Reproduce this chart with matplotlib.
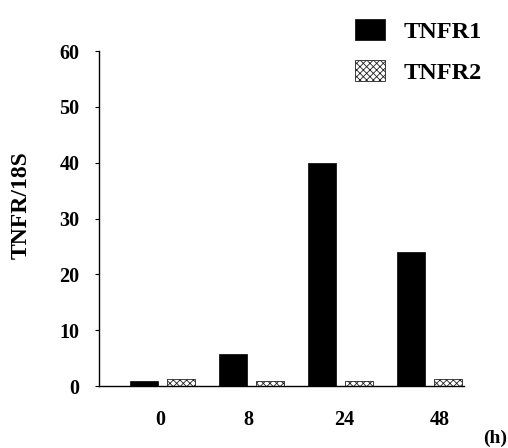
import numpy as np
import matplotlib
matplotlib.use("Agg")
import matplotlib.pyplot as plt

# Data
hours = ["0", "8", "24", "48"]
tnfr1 = [1.0, 5.7, 40.0, 24.0]
tnfr2 = [1.2, 0.9, 0.9, 1.3]

plt.rcParams['font.family'] = ['Liberation Serif', 'DejaVu Serif']
plt.rcParams['font.weight'] = 'bold'
plt.rcParams['hatch.linewidth'] = 0.6

fig = plt.figure(figsize=(5.08, 4.48), dpi=100)
ax = fig.add_axes([0.195, 0.138, 0.718, 0.748])

x = np.arange(len(hours))
w = 0.315
off = 0.208

b1 = ax.bar(x - off, tnfr1, w, color='black', edgecolor='black', linewidth=0.5, label='TNFR1')
b2 = ax.bar(x + off, tnfr2, w, color='white', edgecolor='#222222', hatch='xxxxx', linewidth=0.6, label='TNFR2')

ax.set_xlim(-0.71, 3.39)
ax.set_ylim(0, 60)
ax.set_yticks([0, 10, 20, 30, 40, 50, 60])
# tick labels sit a little off the group centres in the original
ax.set_xticks(x + np.array([-0.02, -0.03, 0.04, 0.12]))
ax.set_xticklabels(hours)

for s in ['top', 'right']:
    ax.spines[s].set_visible(False)
ax.spines['left'].set_linewidth(1.0)
ax.spines['bottom'].set_linewidth(1.0)

ax.tick_params(axis='y', length=3, width=0.8, pad=11, labelsize=14.5)
ax.tick_params(axis='x', length=0, pad=17, labelsize=14.5)

ax.set_ylabel('TNFR/18S', fontsize=17, fontweight='bold')
ax.yaxis.set_label_coords(-0.184, 0.54)

fig.text(0.975, 0.022, '(h)', fontsize=14, fontweight='bold', ha='center', va='center')

ax.legend(handles=[b1, b2], loc='upper left', bbox_to_anchor=(355 / 508, 1 - 19 / 448),
          bbox_transform=fig.transFigure, frameon=False, borderpad=0, borderaxespad=0,
          handlelength=1.25, handleheight=0.95, handletextpad=0.75, labelspacing=0.7,
          prop={'size': 17.5, 'weight': 'bold'})

fig.savefig('out.png', dpi=100)
